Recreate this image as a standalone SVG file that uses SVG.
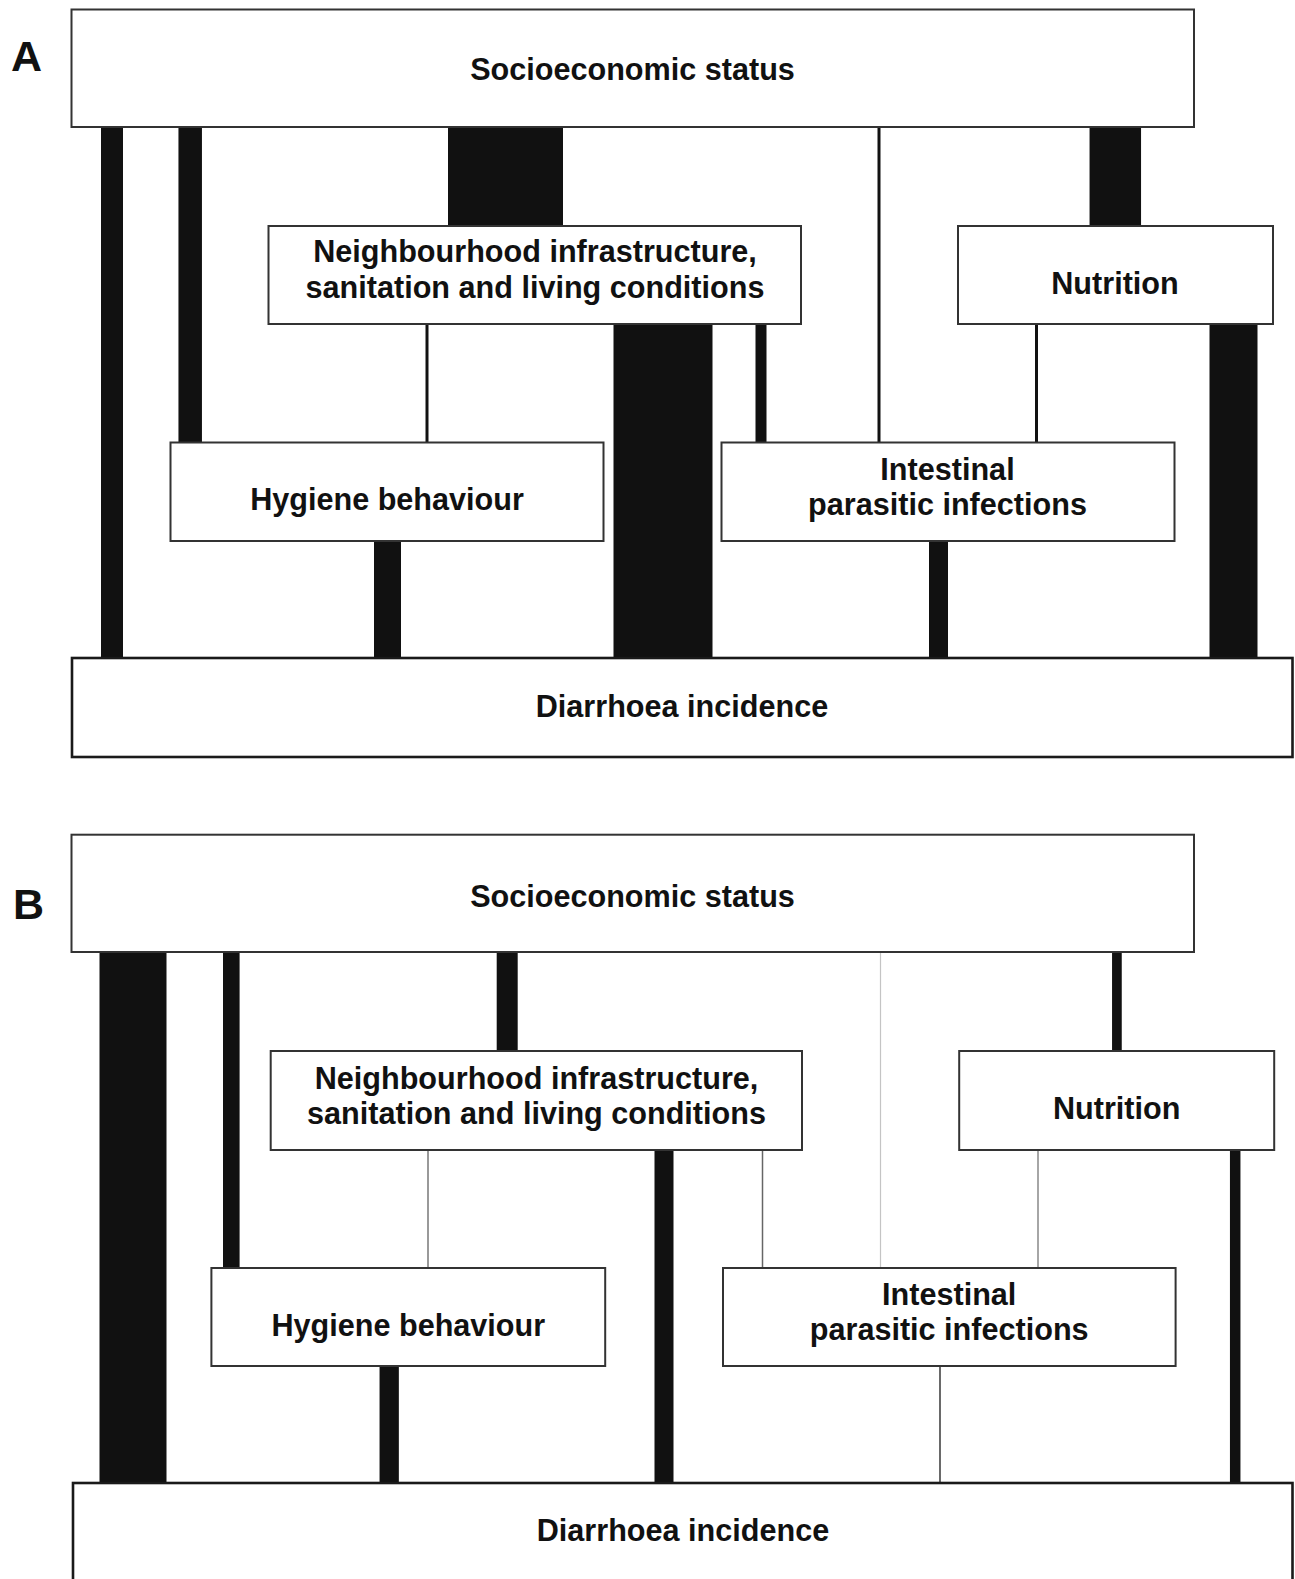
<svg xmlns="http://www.w3.org/2000/svg" width="1295" height="1579" viewBox="0 0 1295 1579">
<style>
.box{fill:#fff;stroke:#333;stroke-width:2}
.bot{fill:#fff;stroke:#1a1a1a;stroke-width:2.6}
.t{font-family:"Liberation Sans",Arial,sans-serif;font-weight:bold;font-size:30.6px;text-anchor:middle;fill:#111}
.lbl{font-family:"Liberation Sans",Arial,sans-serif;font-weight:bold;font-size:43px;fill:#111}
.c{stroke:#111;fill:none}
.g{fill:none}
</style>
<rect width="1295" height="1579" fill="#fff"/>
<text class="lbl" x="11" y="71">A</text>
<text class="lbl" x="13" y="919">B</text>
<g id="connectors">
  <!-- Panel A -->
  <line class="c" x1="112" y1="127" x2="112" y2="658" stroke-width="22"/>
  <line class="c" x1="190.2" y1="127" x2="190.2" y2="442.5" stroke-width="23.5"/>
  <line class="c" x1="505.5" y1="127" x2="505.5" y2="226" stroke-width="115"/>
  <line class="c" x1="879" y1="127" x2="879" y2="442.5" stroke-width="3"/>
  <line class="c" x1="1115.3" y1="127" x2="1115.3" y2="226" stroke-width="51.5"/>
  <line class="c" x1="427" y1="324" x2="427" y2="442.5" stroke-width="3"/>
  <line class="c" x1="663" y1="324" x2="663" y2="658" stroke-width="99"/>
  <line class="c" x1="761" y1="324" x2="761" y2="442.5" stroke-width="11"/>
  <line class="c" x1="1036.5" y1="324" x2="1036.5" y2="442.5" stroke-width="3"/>
  <line class="c" x1="1233.5" y1="324" x2="1233.5" y2="658" stroke-width="48"/>
  <line class="c" x1="387.5" y1="541" x2="387.5" y2="658" stroke-width="27"/>
  <line class="c" x1="938.5" y1="541" x2="938.5" y2="658" stroke-width="19"/>
  <!-- Panel B -->
  <line class="c" x1="133" y1="952" x2="133" y2="1483" stroke-width="67"/>
  <line class="c" x1="231.3" y1="952" x2="231.3" y2="1268" stroke-width="16.6"/>
  <line class="c" x1="507.2" y1="952" x2="507.2" y2="1051" stroke-width="21"/>
  <line class="g" x1="880.5" y1="952" x2="880.5" y2="1268" stroke="#c4c4c4" stroke-width="1.2"/>
  <line class="c" x1="1116.9" y1="952" x2="1116.9" y2="1051" stroke-width="9.7"/>
  <line class="g" x1="428" y1="1150" x2="428" y2="1268" stroke="#777" stroke-width="1.5"/>
  <line class="c" x1="664" y1="1150" x2="664" y2="1483" stroke-width="19"/>
  <line class="g" x1="762.5" y1="1150" x2="762.5" y2="1268" stroke="#666" stroke-width="1.5"/>
  <line class="g" x1="1038" y1="1150" x2="1038" y2="1268" stroke="#888" stroke-width="1.5"/>
  <line class="c" x1="1235.2" y1="1150" x2="1235.2" y2="1483" stroke-width="10.5"/>
  <line class="c" x1="389.2" y1="1366" x2="389.2" y2="1483" stroke-width="19.3"/>
  <line class="g" x1="940" y1="1366" x2="940" y2="1483" stroke="#444" stroke-width="1.6"/>
</g>
<g id="a-ses"><rect class="box" x="71.5" y="9.5" width="1122.5" height="117.5"/><text class="t" x="632.5" y="80">Socioeconomic status</text></g>
<g id="a-neigh"><rect class="box" x="268.5" y="226" width="532.5" height="98"/><text class="t" x="535" y="262">Neighbourhood infrastructure,</text><text class="t" x="535" y="298">sanitation and living conditions</text></g>
<g id="a-nutr"><rect class="box" x="958" y="226" width="315" height="98"/><text class="t" x="1115" y="294">Nutrition</text></g>
<g id="a-hyg"><rect class="box" x="170.5" y="442.5" width="433" height="98.5"/><text class="t" x="387" y="510">Hygiene behaviour</text></g>
<g id="a-int"><rect class="box" x="721.5" y="442.5" width="453" height="98.5"/><text class="t" x="947.5" y="480">Intestinal</text><text class="t" x="947.5" y="515">parasitic infections</text></g>
<g id="a-diar"><rect class="bot" x="72" y="658" width="1220.5" height="99"/><text class="t" x="682" y="717">Diarrhoea incidence</text></g>
<g id="b-ses"><rect class="box" x="71.5" y="834.7" width="1122.5" height="117.3"/><text class="t" x="632.5" y="907">Socioeconomic status</text></g>
<g id="b-neigh"><rect class="box" x="270.7" y="1051" width="531.3" height="99"/><text class="t" x="536.5" y="1089">Neighbourhood infrastructure,</text><text class="t" x="536.5" y="1124">sanitation and living conditions</text></g>
<g id="b-nutr"><rect class="box" x="959.2" y="1051" width="315" height="99"/><text class="t" x="1116.7" y="1119">Nutrition</text></g>
<g id="b-hyg"><rect class="box" x="211.4" y="1268" width="393.8" height="98"/><text class="t" x="408.3" y="1336">Hygiene behaviour</text></g>
<g id="b-int"><rect class="box" x="723" y="1268" width="452.6" height="98"/><text class="t" x="949.2" y="1305">Intestinal</text><text class="t" x="949.2" y="1340">parasitic infections</text></g>
<g id="b-diar"><rect class="bot" x="73" y="1483" width="1219.5" height="110"/><text class="t" x="683" y="1541">Diarrhoea incidence</text></g>
</svg>
